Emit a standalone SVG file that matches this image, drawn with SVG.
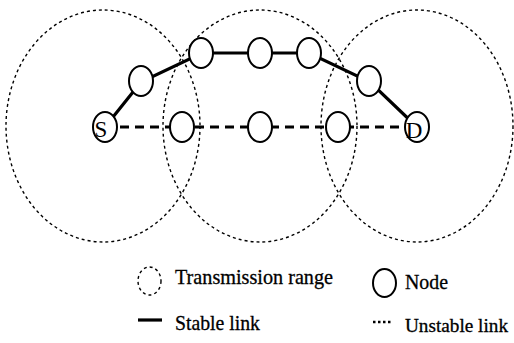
<svg xmlns="http://www.w3.org/2000/svg" width="514" height="343" viewBox="0 0 514 343">
<style>
.range{fill:none;stroke:#000;stroke-width:1.4;stroke-dasharray:3 3}
.node{fill:#fff;stroke:#000;stroke-width:2}
.stable{fill:none;stroke:#000;stroke-width:3.2}
.unstable{fill:none;stroke:#000;stroke-width:3.2;stroke-dasharray:9 6}
.lbl{font-family:"Liberation Serif","Times New Roman",serif;font-size:21px;fill:#000;stroke:#000;stroke-width:0.3}
.nl{font-family:"Liberation Serif","Times New Roman",serif;font-size:23px;fill:#000;text-anchor:middle}
</style>
<g id="ranges">
<ellipse class="range" cx="103" cy="126" rx="97" ry="116"/>
<ellipse class="range" cx="260" cy="126" rx="97" ry="116"/>
<ellipse class="range" cx="417" cy="126" rx="96" ry="116"/>
</g>
<g id="connectors">
<polyline class="stable" points="105,127 141,82 202,53 260,53 309,53 370,82 417,127"/>
<line class="unstable" x1="105" y1="127" x2="417" y2="127"/>
</g>
<g id="node-S"><ellipse class="node" cx="105" cy="127" rx="12" ry="15"/><text class="nl" x="101" y="137">S</text></g>
<g id="node-b1"><ellipse class="node" cx="182" cy="127" rx="12" ry="15"/></g>
<g id="node-b2"><ellipse class="node" cx="260" cy="127" rx="12" ry="15"/></g>
<g id="node-b3"><ellipse class="node" cx="338" cy="127" rx="12" ry="15"/></g>
<g id="node-D"><ellipse class="node" cx="417" cy="127" rx="12" ry="15"/><text class="nl" x="414" y="138">D</text></g>
<g id="node-t1"><ellipse class="node" cx="141" cy="81" rx="12" ry="15"/></g>
<g id="node-t2"><ellipse class="node" cx="201" cy="53" rx="12" ry="15"/></g>
<g id="node-t3"><ellipse class="node" cx="260" cy="53" rx="12" ry="15"/></g>
<g id="node-t4"><ellipse class="node" cx="309" cy="53" rx="12" ry="15"/></g>
<g id="node-t5"><ellipse class="node" cx="369" cy="81" rx="12" ry="15"/></g>
<g id="legend">
<ellipse class="range" cx="149.5" cy="281" rx="11.5" ry="14"/>
<text class="lbl" x="175" y="284" textLength="158" lengthAdjust="spacingAndGlyphs">Transmission range</text>
<ellipse class="node" cx="384.5" cy="283" rx="11.5" ry="14"/>
<text class="lbl" x="405" y="289" textLength="43" lengthAdjust="spacingAndGlyphs">Node</text>
<line x1="138" y1="320" x2="162" y2="320" stroke="#000" stroke-width="3.2"/>
<text class="lbl" x="175" y="330" textLength="85" lengthAdjust="spacingAndGlyphs">Stable link</text>
<line x1="373" y1="322" x2="392" y2="322" stroke="#000" stroke-width="2.5" stroke-dasharray="2.5 2.5"/>
<text class="lbl" x="405" y="332" style="font-size:19px" textLength="103" lengthAdjust="spacingAndGlyphs">Unstable link</text>
</g>
</svg>
